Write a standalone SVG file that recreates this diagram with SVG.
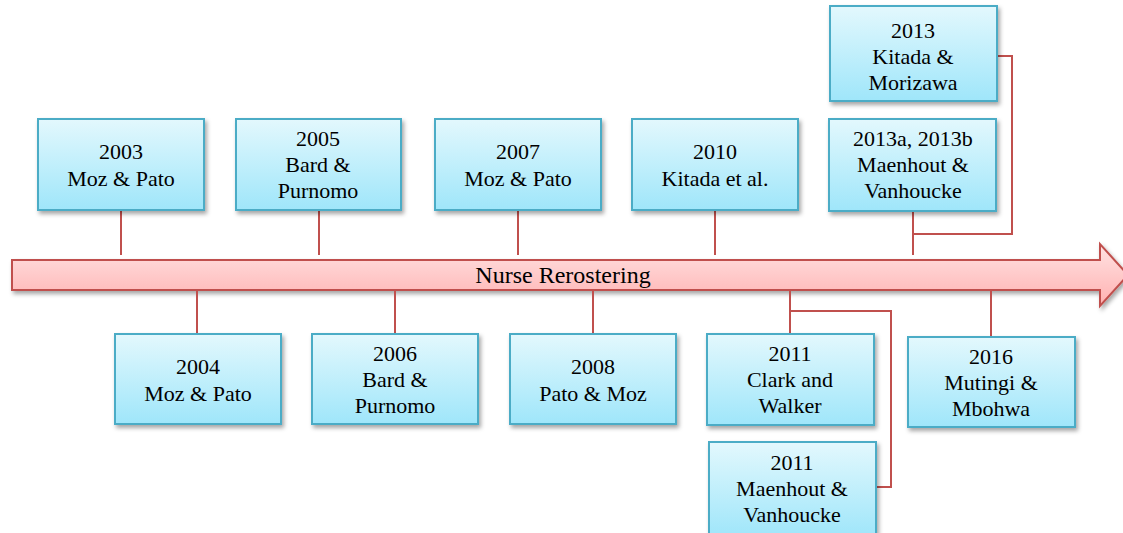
<svg xmlns="http://www.w3.org/2000/svg" width="1123" height="533" viewBox="0 0 1123 533">
<defs>
<linearGradient id="gb" x1="0" y1="0" x2="0" y2="1"><stop offset="0" stop-color="#e3f8fd"/><stop offset="1" stop-color="#9fe6fa"/></linearGradient>
<linearGradient id="gr" x1="0" y1="0" x2="0" y2="1"><stop offset="0" stop-color="#ffe3e3"/><stop offset="1" stop-color="#ffb1b1"/></linearGradient>
<filter id="sh" x="-10%" y="-10%" width="125%" height="130%"><feDropShadow dx="2" dy="3" stdDeviation="2" flood-color="#000" flood-opacity="0.35"/></filter>
</defs>
<style>
.box{fill:url(#gb);stroke:#4bacc6;stroke-width:2;filter:url(#sh)}
.c{fill:none;stroke:#c0504d;stroke-width:2}
</style>
<g id="timeline">
<path d="M12,260 H1100 V244 L1128,275 L1100,306 V290 H12 Z" fill="url(#gr)" stroke="#c0504d" stroke-width="2" filter="url(#sh)"/>
<text x="563" y="283" font-family="Liberation Serif" font-size="24" text-anchor="middle" style="font-family:'Liberation Serif',serif">Nurse Rerostering</text>
</g>
<g id="connectors">
<path class="c" d="M121,210 V255"/>
<path class="c" d="M319,210 V255"/>
<path class="c" d="M518,210 V255"/>
<path class="c" d="M715,210 V255"/>
<path class="c" d="M913,211 V255"/>
<path class="c" d="M997,56 H1012 V234 H914"/>
<path class="c" d="M197,290 V334"/>
<path class="c" d="M395,290 V334"/>
<path class="c" d="M593,290 V334"/>
<path class="c" d="M790,290 V334"/>
<path class="c" d="M790,311 H891 V487 H877"/>
<path class="c" d="M991,290 V337"/>
</g>
<g id="n2003"><rect class="box" x="38" y="119" width="166" height="91"/><text x="121" y="159" font-family="Liberation Serif" font-size="22" text-anchor="middle" style="font-family:'Liberation Serif',serif"><tspan x="121" y="159">2003</tspan><tspan x="121" y="186">Moz &amp; Pato</tspan></text></g>
<g id="n2005"><rect class="box" x="236" y="119" width="165" height="91"/><text x="318" y="146" font-family="Liberation Serif" font-size="22" text-anchor="middle" style="font-family:'Liberation Serif',serif"><tspan x="318" y="146">2005</tspan><tspan x="318" y="172">Bard &amp;</tspan><tspan x="318" y="198">Purnomo</tspan></text></g>
<g id="n2007"><rect class="box" x="435" y="119" width="166" height="91"/><text x="518" y="159" font-family="Liberation Serif" font-size="22" text-anchor="middle" style="font-family:'Liberation Serif',serif"><tspan x="518" y="159">2007</tspan><tspan x="518" y="186">Moz &amp; Pato</tspan></text></g>
<g id="n2010"><rect class="box" x="632" y="119" width="166" height="91"/><text x="715" y="159" font-family="Liberation Serif" font-size="22" text-anchor="middle" style="font-family:'Liberation Serif',serif"><tspan x="715" y="159">2010</tspan><tspan x="715" y="186">Kitada et al.</tspan></text></g>
<g id="n2013ab"><rect class="box" x="829" y="119" width="167" height="92"/><text x="913" y="146" font-family="Liberation Serif" font-size="22" text-anchor="middle" style="font-family:'Liberation Serif',serif"><tspan x="913" y="146">2013a, 2013b</tspan><tspan x="913" y="172">Maenhout &amp;</tspan><tspan x="913" y="198">Vanhoucke</tspan></text></g>
<g id="n2013"><rect class="box" x="830" y="6" width="167" height="95"/><text x="913" y="38" font-family="Liberation Serif" font-size="22" text-anchor="middle" style="font-family:'Liberation Serif',serif"><tspan x="913" y="38">2013</tspan><tspan x="913" y="64">Kitada &amp;</tspan><tspan x="913" y="90">Morizawa</tspan></text></g>
<g id="n2004"><rect class="box" x="115" y="334" width="166" height="90"/><text x="198" y="374" font-family="Liberation Serif" font-size="22" text-anchor="middle" style="font-family:'Liberation Serif',serif"><tspan x="198" y="374">2004</tspan><tspan x="198" y="401">Moz &amp; Pato</tspan></text></g>
<g id="n2006"><rect class="box" x="312" y="334" width="166" height="90"/><text x="395" y="361" font-family="Liberation Serif" font-size="22" text-anchor="middle" style="font-family:'Liberation Serif',serif"><tspan x="395" y="361">2006</tspan><tspan x="395" y="387">Bard &amp;</tspan><tspan x="395" y="413">Purnomo</tspan></text></g>
<g id="n2008"><rect class="box" x="510" y="334" width="166" height="90"/><text x="593" y="374" font-family="Liberation Serif" font-size="22" text-anchor="middle" style="font-family:'Liberation Serif',serif"><tspan x="593" y="374">2008</tspan><tspan x="593" y="401">Pato &amp; Moz</tspan></text></g>
<g id="n2011cw"><rect class="box" x="707" y="334" width="167" height="91"/><text x="790" y="361" font-family="Liberation Serif" font-size="22" text-anchor="middle" style="font-family:'Liberation Serif',serif"><tspan x="790" y="361">2011</tspan><tspan x="790" y="387">Clark and</tspan><tspan x="790" y="413">Walker</tspan></text></g>
<g id="n2011mv"><rect class="box" x="709" y="442" width="167" height="95"/><text x="792" y="470" font-family="Liberation Serif" font-size="22" text-anchor="middle" style="font-family:'Liberation Serif',serif"><tspan x="792" y="470">2011</tspan><tspan x="792" y="496">Maenhout &amp;</tspan><tspan x="792" y="522">Vanhoucke</tspan></text></g>
<g id="n2016"><rect class="box" x="908" y="337" width="167" height="90"/><text x="991" y="364" font-family="Liberation Serif" font-size="22" text-anchor="middle" style="font-family:'Liberation Serif',serif"><tspan x="991" y="364">2016</tspan><tspan x="991" y="390">Mutingi &amp;</tspan><tspan x="991" y="416">Mbohwa</tspan></text></g>
</svg>
